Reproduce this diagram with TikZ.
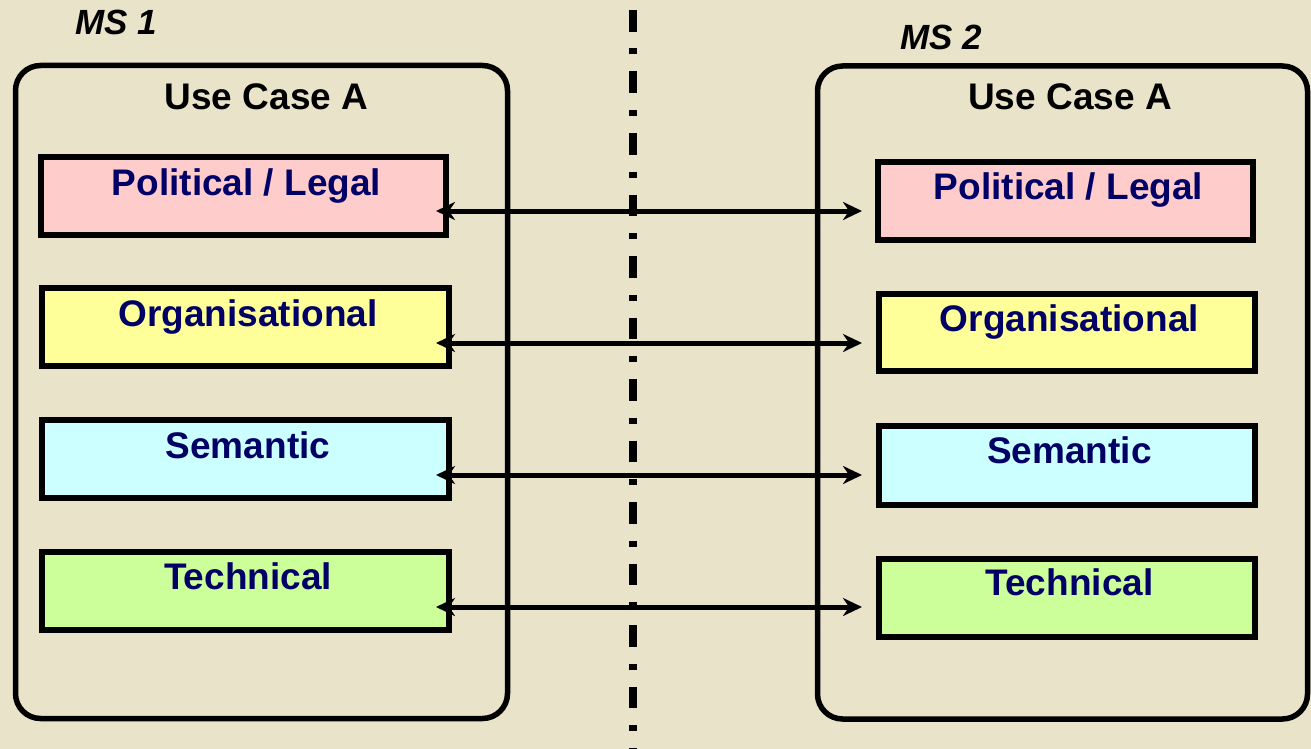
\documentclass[tikz,border=0pt]{standalone}
\usepackage{fontspec}
\setmainfont{Liberation Sans}
\usetikzlibrary{arrows.meta}
\definecolor{bg}{RGB}{233,227,201}
\definecolor{navy}{RGB}{0,0,102}
\definecolor{cpink}{RGB}{255,204,204}
\definecolor{cyellow}{RGB}{255,255,153}
\definecolor{ccyan}{RGB}{204,255,255}
\definecolor{cgreen}{RGB}{204,255,153}
\tikzset{
  outerbox/.style={draw=black, line width=5.5pt, rounded corners=25pt, inner sep=0pt, outer sep=0pt},
  layerbox/.style={draw=black, line width=6pt, inner sep=0pt, outer sep=0pt},
  layertext/.style={text=navy, font=\fontsize{37}{40}\selectfont\bfseries, anchor=base, inner sep=0pt},
  titletext/.style={text=black, font=\fontsize{37}{40}\selectfont\bfseries, anchor=base, inner sep=0pt},
  mstext/.style={text=black, font=\fontsize{35}{38}\selectfont\bfseries\itshape, anchor=base, inner sep=0pt},
  arr/.style={line width=5pt, {Stealth[length=19pt,width=18pt,inset=6pt]}-{Stealth[length=19pt,width=18pt,inset=6pt]}},
  divider/.style={line width=7.5pt, dash pattern=on 21.7pt off 16.8pt on 6pt off 17pt}
}
\begin{document}
\begin{tikzpicture}[x=1pt,y=-1pt]
\fill[bg] (0,0) rectangle (1311,749);
\useasboundingbox (0,0) rectangle (1311,749);

% divider
\coordinate (dtop) at (633,10);
\coordinate (dbot) at (633,749);
\draw[divider] (dtop) -- (dbot);

% outer boxes
\node[outerbox, minimum width=492pt, minimum height=653pt] (ms1box) at (261.5,392) {};
\node[outerbox, minimum width=490pt, minimum height=653pt] (ms2box) at (1062.5,392.5) {};

% MS labels
\node[mstext] (ms1) at (116,35) {MS 1};
\node[mstext] (ms2) at (941.5,50) {MS 2};

% Use case titles
\node[titletext] (uc1) at (266.5,110) {Use Case A};
\node[titletext] (uc2) at (1070,110) {Use Case A};

% left layer boxes
\node[layerbox, fill=cpink,   minimum width=405pt, minimum height=78pt] (pL) at (243,195.5) {};
\node[layerbox, fill=cyellow, minimum width=407pt, minimum height=78pt] (oL) at (245,326.5) {};
\node[layerbox, fill=ccyan,   minimum width=407pt, minimum height=78pt] (sL) at (245,458.5) {};
\node[layerbox, fill=cgreen,  minimum width=407pt, minimum height=78pt] (tL) at (245,590.5) {};

% right layer boxes
\node[layerbox, fill=cpink,   minimum width=375pt, minimum height=78pt] (pR) at (1065,200.5) {};
\node[layerbox, fill=cyellow, minimum width=376pt, minimum height=77pt] (oR) at (1066.5,332) {};
\node[layerbox, fill=ccyan,   minimum width=376pt, minimum height=79pt] (sR) at (1066.5,465) {};
\node[layerbox, fill=cgreen,  minimum width=376pt, minimum height=78pt] (tR) at (1066.5,597.5) {};

% texts
\node[layertext] (pLt) at (246.5,195) {Political / Legal};
\node[layertext] (oLt) at (248,326) {Organisational};
\node[layertext] (sLt) at (248,458) {Semantic};
\node[layertext] (tLt) at (248,589) {Technical};
\node[layertext] (pRt) at (1068.5,199) {Political / Legal};
\node[layertext] (oRt) at (1069.5,331) {Organisational};
\node[layertext] (sRt) at (1069.5,463) {Semantic};
\node[layertext] (tRt) at (1069.5,595) {Technical};

% arrows
\coordinate (tipx) at (862,0);
\coordinate (s1) at (436,211);
\coordinate (s2) at (436,343);
\coordinate (s3) at (436,475);
\coordinate (s4) at (436,607);
\draw[arr] (s1) -- (s1 -| tipx);
\draw[arr] (s2) -- (s2 -| tipx);
\draw[arr] (s3) -- (s3 -| tipx);
\draw[arr] (s4) -- (s4 -| tipx);
\end{tikzpicture}
\end{document}
